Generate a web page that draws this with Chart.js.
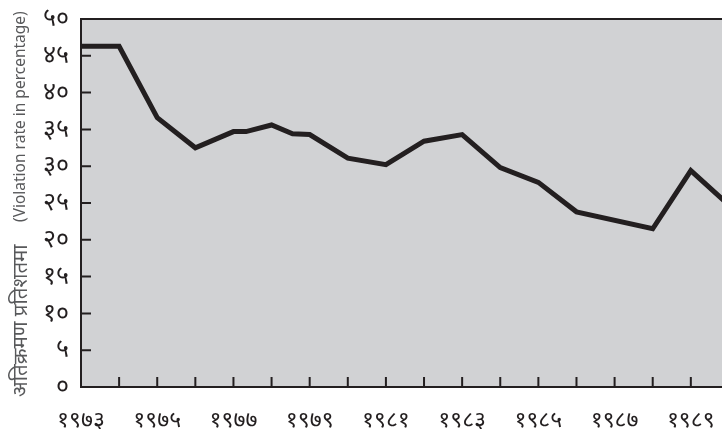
<!DOCTYPE html>
<html>
<head>
<meta charset="utf-8">
<script src="https://cdn.jsdelivr.net/npm/chart.js@4/dist/chart.umd.min.js"></script>
<style>
html,body{margin:0;padding:0;background:#fff;overflow:hidden;width:722px;height:429px;}
#wrap{width:760px;height:429px;}
</style>
</head>
<body>
<div id="wrap"><canvas id="c" width="760" height="429"></canvas></div>
<script>
// Data (years may be fractional where the reference shows mid-year points)
const years  = [1973, 1974, 1975, 1976, 1977, 1977.33, 1978, 1978.55, 1979, 1980, 1981, 1982, 1983, 1984, 1985, 1986, 1988, 1989, 1990];
const values = [46.3, 46.3, 36.6, 32.5, 34.7, 34.7, 35.6, 34.4, 34.3, 31.1, 30.2, 33.4, 34.3, 29.8, 27.8, 23.8, 21.5, 29.4, 24.7];
const xTickLabels = [1973, 1975, 1977, 1979, 1981, 1983, 1985, 1987, 1989];
const yTickValues = [0, 5, 10, 15, 20, 25, 30, 35, 40, 45, 50];
const yTitleNe = 'अतिक्रमण प्रतिशतमा';
const yTitleEn = '(Violation rate in percentage)';

const devDigits = ['०','१','२','३','४','५','६','७','८','९'];
const toDev = n => String(n).split('').map(d => devDigits[+d] ?? d).join('');

const FONT = "'Noto Sans', 'DejaVu Sans', sans-serif";

const framePlugin = {
  id: 'frame',
  beforeDraw(chart) {
    const {ctx, chartArea: a} = chart;
    ctx.save();
    ctx.fillStyle = '#d1d2d4';
    ctx.fillRect(a.left, a.top, a.right - a.left, a.bottom - a.top);
    ctx.restore();
  },
  beforeDatasetsDraw(chart) {
    const {ctx, chartArea: a, scales} = chart;
    ctx.save();
    ctx.strokeStyle = '#231f20';
    ctx.lineWidth = 2;
    ctx.beginPath();
    for (let yr = 1974; yr <= 1990; yr++) {
      const px = scales.x.getPixelForValue(yr);
      ctx.moveTo(px, a.bottom);
      ctx.lineTo(px, a.bottom - 10);
    }
    yTickValues.forEach(v => {
      if (v === 0 || v === 50) return;
      const py = scales.y.getPixelForValue(v);
      ctx.moveTo(a.left, py);
      ctx.lineTo(a.left + 10, py);
    });
    ctx.stroke();
    ctx.restore();
  },
  afterDatasetsDraw(chart) {
    const {ctx, chartArea: a, scales} = chart;
    ctx.save();
    ctx.strokeStyle = '#231f20';
    ctx.lineWidth = 2;
    ctx.beginPath();
    ctx.moveTo(a.right + 5, a.top);
    ctx.lineTo(a.left, a.top);
    ctx.lineTo(a.left, a.bottom);
    ctx.lineTo(a.right + 5, a.bottom);
    ctx.stroke();
    // y-axis title (two scripts at two sizes)
    const base = scales.y.getPixelForValue(0) + 10;
    ctx.translate(21, base);
    ctx.rotate(-Math.PI / 2);
    ctx.fillStyle = '#58595b';
    ctx.textBaseline = 'middle';
    ctx.textAlign = 'left';
    ctx.font = "20.5px " + FONT;
    ctx.fillText(yTitleNe, 0, 0);
    ctx.font = "15.5px " + FONT;
    ctx.fillText(yTitleEn, 175, 0);
    ctx.restore();
  }
};

new Chart(document.getElementById('c'), {
  type: 'line',
  data: {
    datasets: [{
      data: years.map((y, i) => ({x: y, y: values[i]})),
      borderColor: '#231f20',
      borderWidth: 5,
      borderJoinStyle: 'miter',
      pointRadius: 0,
      tension: 0,
      fill: false
    }]
  },
  options: {
    responsive: false,
    animation: false,
    devicePixelRatio: 1,
    layout: {padding: {top: 19, right: 0, bottom: 0, left: 0}},
    plugins: {legend: {display: false}, tooltip: {enabled: false}},
    scales: {
      x: {
        type: 'linear',
        min: 1973,
        max: 1990.5,
        afterFit(s) { s.height = 42; },
        grid: {display: false},
        border: {display: false},
        ticks: {
          stepSize: 1,
          autoSkip: false,
          maxRotation: 0,
          padding: 12,
          color: '#231f20',
          font: {family: FONT, size: 23},
          callback: v => xTickLabels.includes(v) ? toDev(v) : ''
        }
      },
      y: {
        min: 0,
        max: 50,
        afterFit(s) { s.width = 81; },
        grid: {display: false},
        border: {display: false},
        ticks: {
          stepSize: 5,
          padding: 4,
          color: '#231f20',
          font: {family: FONT, size: 25},
          callback: v => toDev(v)
        },
        title: {display: false}
      }
    }
  },
  plugins: [framePlugin]
});
</script>
</body>
</html>
